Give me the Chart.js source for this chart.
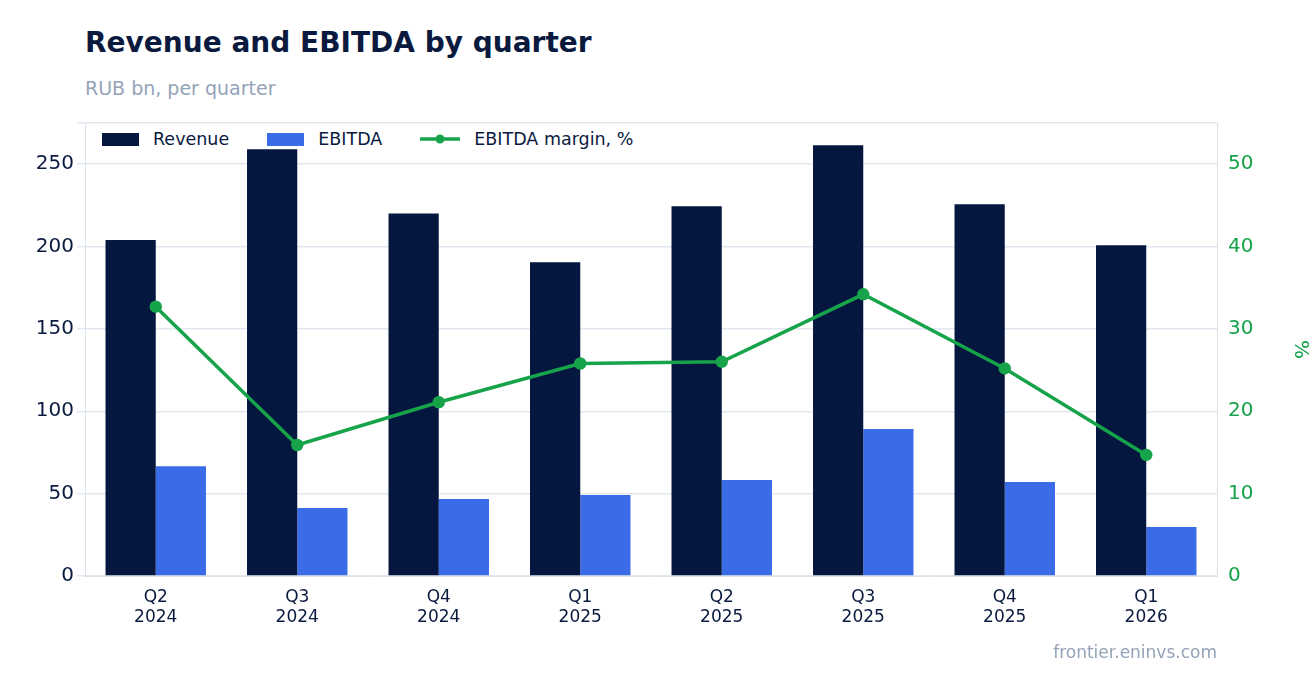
<!DOCTYPE html>
<html><head><meta charset="utf-8">
<script src="https://cdn.jsdelivr.net/npm/chart.js@4"></script>
<style>
body{margin:0;width:1316px;height:693px;background:#fff;font-family:"DejaVu Sans",sans-serif;position:relative;overflow:hidden}
#t{position:absolute;left:85px;top:26px;font-size:28px;font-weight:bold;color:#0a1a3f}
#s{position:absolute;left:85px;top:77px;font-size:19px;color:#94a3b8}
#f{position:absolute;right:99px;top:642px;font-size:17px;color:#94a3b8}
#lg{position:absolute;left:102px;top:129px;font-size:17.5px;color:#0a1a3f;display:flex;align-items:center;background:#fff}
#lg span.b{display:inline-block;width:37px;height:13px;margin-right:14px}
#lg .it{display:flex;align-items:center;margin-right:38px}
canvas{position:absolute;left:0;top:0}
</style></head><body>
<div id="t">Revenue and EBITDA by quarter</div>
<div id="s">RUB bn, per quarter</div>
<canvas id="c" width="1316" height="693"></canvas>
<div id="lg">
<div class="it"><span class="b" style="background:#05163f"></span>Revenue</div>
<div class="it"><span class="b" style="background:#3b6ce8"></span>EBITDA</div>
<div class="it"><svg width="40" height="14" style="margin-right:14px"><line x1="0" y1="7" x2="40" y2="7" stroke="#16a34a" stroke-width="3.5"/><circle cx="20" cy="7" r="4.5" fill="#16a34a"/></svg>EBITDA margin, %</div>
</div>
<div id="f">frontier.eninvs.com</div>
<script>
const categories=[["Q2","2024"],["Q3","2024"],["Q4","2024"],["Q1","2025"],["Q2","2025"],["Q3","2025"],["Q4","2025"],["Q1","2026"]];
const revenue=[204,259,220,190.5,224.5,261.5,225.7,200.8];
const ebitda=[66.7,41.3,46.7,49.2,58.3,89.2,57,29.7];
const margin=[32.7,15.9,21.1,25.8,26.0,34.2,25.2,14.7];
new Chart(document.getElementById('c'),{
data:{labels:categories,datasets:[
{type:'line',data:margin,yAxisID:'y1',borderColor:'#16a34a',backgroundColor:'#16a34a',borderWidth:3.5,pointRadius:4.5,order:0},
{type:'bar',data:revenue,backgroundColor:'#05163f',yAxisID:'y',categoryPercentage:0.71,barPercentage:1,order:1},
{type:'bar',data:ebitda,backgroundColor:'#3b6ce8',yAxisID:'y',categoryPercentage:0.71,barPercentage:1,order:1}
]},
options:{responsive:false,animation:false,
layout:{padding:{top:123,left:0,right:0,bottom:0}},
plugins:{legend:{display:false},tooltip:{enabled:false}},
scales:{
x:{afterFit:s=>{s.height=117},grid:{display:false},border:{color:'#dbe2ea'},ticks:{color:'#0a1a3f',font:{size:17,family:'DejaVu Sans'}}},
y:{afterFit:s=>{s.width=85},min:0,max:275,ticks:{stepSize:50,color:'#0a1a3f',font:{size:20,family:'DejaVu Sans'},callback:v=>v%50===0?v:''},grid:{color:'#e2e8f0',lineWidth:1.5},border:{color:'#dbe2ea'}},
y1:{afterFit:s=>{s.width=99},position:'right',min:0,max:55,ticks:{stepSize:10,color:'#16a34a',font:{size:20,family:'DejaVu Sans'},callback:v=>v%10===0?v:''},grid:{display:false},border:{color:'#dbe2ea'},title:{display:true,text:'%',color:'#16a34a',font:{size:20,family:'DejaVu Sans'}}}
}}
});
</script></body></html>
